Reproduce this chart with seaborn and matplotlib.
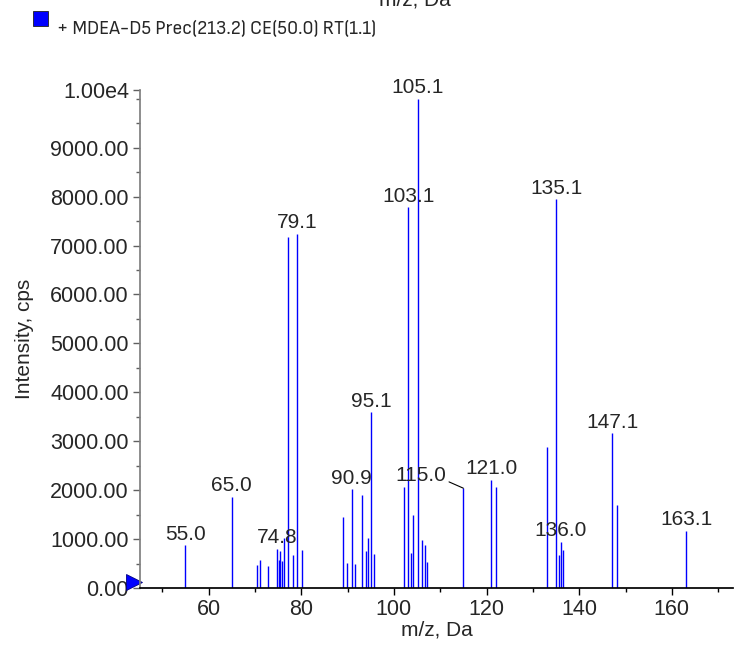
import numpy as np
import pandas as pd
import matplotlib
matplotlib.use("Agg")
import matplotlib.pyplot as plt
import seaborn as sns
from matplotlib import font_manager
from matplotlib.font_manager import FontProperties
from matplotlib.ticker import FixedLocator, MultipleLocator, FuncFormatter
from matplotlib.patches import Rectangle

# peak list (m/z, intensity in cps)
peak_mz = [55.0, 65.0, 70.5, 71.0, 72.9, 74.8, 75.2, 75.4, 75.9, 76.3, 77.1, 78.2,
           79.1, 80.1, 89.0, 89.9, 90.9, 91.6, 93.1, 94.0, 94.4, 95.1, 95.7,
           102.1, 103.1, 103.7, 104.1, 105.1, 106.0, 106.7, 107.1, 115.0,
           121.0, 122.1, 133.0, 135.1, 135.6, 136.0, 136.5, 147.1, 148.1, 163.1]
peak_int = [870, 1870, 470, 570, 450, 805, 570, 760, 550, 1030, 7180, 670,
            7240, 770, 1460, 515, 2020, 500, 1910, 750, 1020, 3590, 705,
            2070, 7780, 725, 1500, 10000, 975, 875, 535, 2040,
            2210, 2060, 2890, 7950, 670, 950, 770, 3165, 1690, 1170]

label_mz = [55.0, 65.0, 74.8, 79.1, 90.9, 95.1, 103.1, 105.1, 115.0, 121.0,
            135.1, 136.0, 147.1, 163.1]
label_text = ["55.0", "65.0", "74.8", "79.1", "90.9", "95.1", "103.1", "105.1",
              "115.0", "121.0", "135.1", "136.0", "147.1", "163.1"]

y_ticks = [0, 1000, 2000, 3000, 4000, 5000, 6000, 7000, 8000, 9000, 10180]
x_ticks = [60, 80, 100, 120, 140, 160]
legend_text = "+ MDEA-D5 Prec(213.2) CE(50.0) RT(1.1)"

df = pd.DataFrame({"mz": peak_mz, "intensity": peak_int})

sns.set_theme(style="ticks")
plt.rcParams["font.family"] = ["Liberation Sans", "DejaVu Sans"]

# a narrow/condensed sans face for the legend line, if one is installed
cond = None
for f in font_manager.fontManager.ttflist:
    nm = (f.name + " " + f.fname).lower()
    if ("narrow" in nm or "condensed" in nm) and "sans" in nm and "bold" not in nm \
            and "oblique" not in nm and "italic" not in nm:
        cond = f.fname
        if "liberation" in nm:
            break

BLUE = "#0000FF"
fig = plt.figure(figsize=(7.35, 6.45), dpi=100)
ax = fig.add_axes([140/735, 1-588/645, 593/735, 498/645])

ax.vlines(df["mz"], 0, df["intensity"], color=BLUE, lw=1.0)
ax.set_xlim(45.2, 173.2)
ax.set_ylim(0, y_ticks[-1])

lookup = dict(zip(peak_mz, peak_int))
for m, t in zip(label_mz, label_text):
    if t == "115.0":
        ax.annotate(t, (m, lookup[m]), xytext=(-31, 9), textcoords="offset points",
                    ha="center", va="center", fontsize=15,
                    arrowprops=dict(arrowstyle="-", color="black", lw=0.8,
                                    shrinkA=0, shrinkB=0, relpos=(1.0, 0.25)))
    else:
        ax.annotate(t, (m, lookup[m]), xytext=(0, 4), textcoords="offset points",
                    ha="center", va="baseline", fontsize=15)

# axes styling
sns.despine(ax=ax, top=True, right=True)
ax.spines["left"].set_color("#808080")
ax.spines["bottom"].set_color("black")
ax.xaxis.set_major_locator(FixedLocator(x_ticks))
ax.xaxis.set_minor_locator(MultipleLocator(10))
ax.yaxis.set_major_locator(FixedLocator(y_ticks))
ax.yaxis.set_minor_locator(MultipleLocator(500))
ax.yaxis.set_major_formatter(FuncFormatter(
    lambda v, p: "1.00e4" if v > 9999 else f"{v:.2f}"))
ax.tick_params(axis="x", which="major", length=5, width=1, color="black",
               labelsize=15.5, pad=3)
ax.tick_params(axis="x", which="minor", length=3, width=1, color="black")
ax.tick_params(axis="y", which="major", length=5, width=1, color="#606060",
               labelsize=15.5, pad=3)
ax.tick_params(axis="y", which="minor", length=3, width=1, color="#606060")
ax.set_xlabel("m/z, Da", fontsize=15, labelpad=0)
ax.set_ylabel("Intensity, cps", fontsize=15, labelpad=12)

# blue marker at the origin
ax.plot([-0.01], [130], marker=">", ms=11, color=BLUE, mec="#000080", mew=0.6,
        transform=ax.get_yaxis_transform(), clip_on=False)

# legend block at top
fig.patches.append(Rectangle((33/735, 1-26/645), 15/735, 15/645, transform=fig.transFigure,
                             facecolor=BLUE, edgecolor="#202020", lw=0.6))
fp = FontProperties(fname=cond) if cond else FontProperties(family="Liberation Sans")
fp.set_size(15)
leg = fig.text(57/735, 1-29/645, legend_text, fontproperties=fp, ha="left", va="center")
# fit the line to the width it has in the original (about 321 px)
fig.canvas.draw()
w = leg.get_window_extent().width
fp.set_size(15 * 321 / w)
leg.set_fontproperties(fp)

fig.text(415/735, 1-5/645, "m/z, Da", fontsize=15, ha="center", va="baseline")

fig.savefig("out.png", dpi=100)
